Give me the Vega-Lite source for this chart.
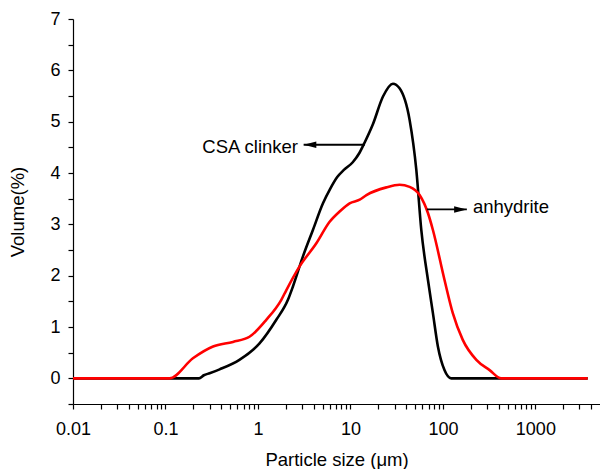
{
  "$schema": "https://vega.github.io/schema/vega-lite/v6.json",
  "width": 527,
  "height": 385,
  "autosize": "none",
  "padding": {"left": 73, "top": 19, "right": 0, "bottom": 65},
  "background": "white",
  "config": {
    "view": {"stroke": null},
    "font": "Liberation Sans",
    "axis": {
      "grid": false,
      "domainColor": "black",
      "domainWidth": 1.2,
      "tickColor": "black",
      "tickWidth": 1.2,
      "tickSize": 5,
      "labelColor": "black",
      "labelFont": "Liberation Sans",
      "labelFontSize": 18,
      "titleColor": "black",
      "titleFont": "Liberation Sans",
      "titleFontSize": 18.5,
      "titleFontWeight": "normal",
      "labelFlush": false
    }
  },
  "resolve": {"axis": {"y": "independent"}},
  "datasets": {
    "clinker": [
      {"size": 0.01, "vol": 0},
      {"size": 0.1, "vol": 0},
      {"size": 0.23, "vol": 0},
      {"size": 0.26, "vol": 0.06},
      {"size": 0.3, "vol": 0.1},
      {"size": 0.385, "vol": 0.175},
      {"size": 0.63, "vol": 0.36},
      {"size": 1.04, "vol": 0.68},
      {"size": 1.58, "vol": 1.14},
      {"size": 2.11, "vol": 1.53},
      {"size": 2.39, "vol": 1.79},
      {"size": 3.06, "vol": 2.37},
      {"size": 3.93, "vol": 2.89},
      {"size": 5.05, "vol": 3.41},
      {"size": 6.0, "vol": 3.68},
      {"size": 7.2, "vol": 3.92},
      {"size": 8.5, "vol": 4.06},
      {"size": 10.6, "vol": 4.21},
      {"size": 12.5, "vol": 4.39},
      {"size": 14.3, "vol": 4.6},
      {"size": 17.5, "vol": 4.95},
      {"size": 22.5, "vol": 5.49},
      {"size": 28.8, "vol": 5.74},
      {"size": 34, "vol": 5.65},
      {"size": 43.7, "vol": 5.03},
      {"size": 51.6, "vol": 4.06},
      {"size": 58.4, "vol": 2.89},
      {"size": 68.9, "vol": 1.92},
      {"size": 78, "vol": 1.27},
      {"size": 88.3, "vol": 0.62},
      {"size": 104, "vol": 0.16},
      {"size": 123, "vol": 0},
      {"size": 427, "vol": 0},
      {"size": 3680, "vol": 0}
    ],
    "anhydrite": [
      {"size": 0.01, "vol": 0},
      {"size": 0.111, "vol": 0},
      {"size": 0.198, "vol": 0.39},
      {"size": 0.327, "vol": 0.62},
      {"size": 0.537, "vol": 0.71},
      {"size": 0.81, "vol": 0.81},
      {"size": 1.23, "vol": 1.14},
      {"size": 1.79, "vol": 1.53},
      {"size": 2.03, "vol": 1.72},
      {"size": 2.82, "vol": 2.18},
      {"size": 4.28, "vol": 2.63},
      {"size": 5.96, "vol": 3.05},
      {"size": 7.64, "vol": 3.25},
      {"size": 9.8, "vol": 3.41},
      {"size": 12.6, "vol": 3.48},
      {"size": 14.9, "vol": 3.57},
      {"size": 24.5, "vol": 3.72},
      {"size": 34, "vol": 3.77},
      {"size": 43.7, "vol": 3.73},
      {"size": 56, "vol": 3.57},
      {"size": 68.9, "vol": 3.22},
      {"size": 78, "vol": 2.89},
      {"size": 104, "vol": 1.92},
      {"size": 128, "vol": 1.27},
      {"size": 164, "vol": 0.75},
      {"size": 230, "vol": 0.36},
      {"size": 320, "vol": 0.16},
      {"size": 427, "vol": 0},
      {"size": 3680, "vol": 0}
    ],
    "arrows": [
      {"x": 3.12, "x2": 14.3, "y": 4.55, "dir": "left"},
      {"x": 67.1, "x2": 181.5, "y": 3.29, "dir": "right"}
    ],
    "heads": [
      {"x": 3.12, "y": 4.55, "dir": "left"},
      {"x": 181.5, "y": 3.29, "dir": "right"}
    ],
    "notes": [
      {"x": 2.71, "y": 4.5, "label": "CSA clinker", "side": "right"},
      {"x": 211, "y": 3.34, "label": "anhydrite", "side": "left"}
    ]
  },
  "layer": [
    {
      "data": {"name": "clinker"},
      "mark": {"type": "line", "color": "black", "strokeWidth": 2.6, "interpolate": "monotone"},
      "encoding": {
        "x": {
          "field": "size",
          "type": "quantitative",
          "scale": {"type": "log", "domain": [0.01, 5000], "nice": false},
          "axis": {
            "title": "Particle size (μm)",
            "titlePadding": 12,
            "labelPadding": 11,
            "labelOverlap": false,
            "labelBound": false,
            "values": [0.01,0.02,0.03,0.04,0.05,0.06,0.07,0.08,0.09,0.1,0.2,0.3,0.4,0.5,0.6,0.7,0.8,0.9,1,2,3,4,5,6,7,8,9,10,20,30,40,50,60,70,80,90,100,200,300,400,500,600,700,800,900,1000,2000,3000,4000],
            "labelExpr": "abs(log(datum.value)/LN10 - round(log(datum.value)/LN10)) < 0.0001 ? format(datum.value, '~g') : ''"
          }
        },
        "y": {
          "field": "vol",
          "type": "quantitative",
          "scale": {"domain": [-0.5, 7], "nice": false, "zero": false},
          "axis": {
            "orient": "left",
            "title": "Volume(%)",
            "titlePadding": 22,
            "labelPadding": 8,
            "values": [0, 1, 2, 3, 4, 5, 6, 7]
          }
        }
      }
    },
    {
      "data": {"name": "anhydrite"},
      "mark": {"type": "line", "color": "#ff0000", "strokeWidth": 2.6, "interpolate": "monotone"},
      "encoding": {
        "x": {"field": "size", "type": "quantitative"},
        "y": {
          "field": "vol",
          "type": "quantitative",
          "axis": {
            "orient": "left",
            "title": null,
            "labels": false,
            "domain": false,
            "values": [-0.5, 0.5, 1.5, 2.5, 3.5, 4.5, 5.5, 6.5]
          }
        }
      }
    },
    {
      "data": {"name": "arrows"},
      "mark": {"type": "rule", "color": "black", "strokeWidth": 1.8},
      "encoding": {
        "x": {"field": "x", "type": "quantitative"},
        "x2": {"field": "x2"},
        "y": {"field": "y", "type": "quantitative", "axis": null}
      }
    },
    {
      "data": {"name": "heads"},
      "mark": {"type": "point", "filled": true, "color": "black", "opacity": 1, "size": 161, "strokeWidth": 0},
      "encoding": {
        "x": {"field": "x", "type": "quantitative"},
        "y": {"field": "y", "type": "quantitative", "axis": null},
        "shape": {
          "field": "dir",
          "type": "nominal",
          "scale": {"domain": ["left", "right"], "range": ["M0,0L2,-0.52L2,0.52Z", "M0,0L-2,-0.52L-2,0.52Z"]},
          "legend": null
        }
      }
    },
    {
      "data": {"name": "notes"},
      "transform": [{"filter": "datum.side === 'right'"}],
      "mark": {"type": "text", "align": "right", "baseline": "middle", "fontSize": 18.5, "font": "Liberation Sans", "color": "black"},
      "encoding": {
        "x": {"field": "x", "type": "quantitative"},
        "y": {"field": "y", "type": "quantitative", "axis": null},
        "text": {"field": "label"}
      }
    },
    {
      "data": {"name": "notes"},
      "transform": [{"filter": "datum.side === 'left'"}],
      "mark": {"type": "text", "align": "left", "baseline": "middle", "fontSize": 18.5, "font": "Liberation Sans", "color": "black"},
      "encoding": {
        "x": {"field": "x", "type": "quantitative"},
        "y": {"field": "y", "type": "quantitative", "axis": null},
        "text": {"field": "label"}
      }
    }
  ]
}
